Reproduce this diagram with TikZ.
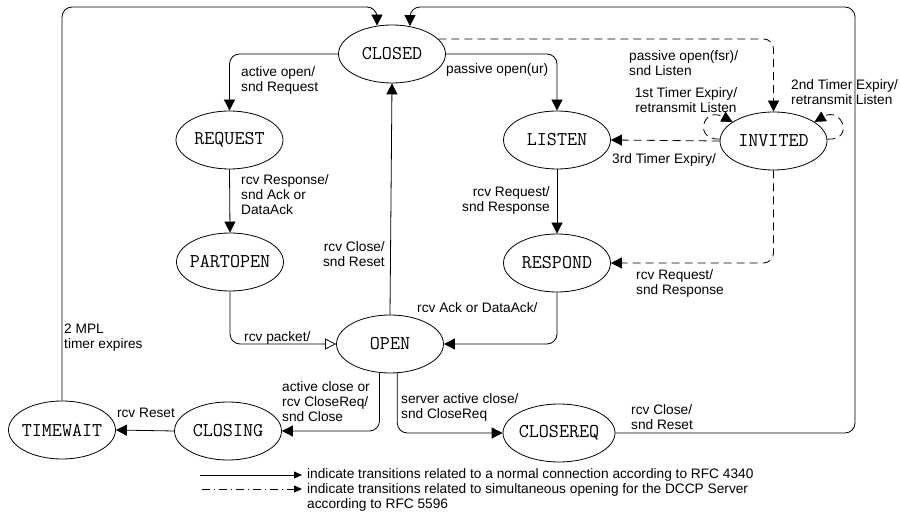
\documentclass[tikz,border=0pt]{standalone}
\usepackage{fontspec}
\setmainfont{Liberation Sans}
\usetikzlibrary{shapes.geometric,arrows.meta,calc}
\begin{document}
\begin{tikzpicture}[x=1pt,y=-1pt,
  state/.style={ellipse,draw,line width=0.8pt,minimum width=107pt,minimum height=58pt,inner sep=0pt,
    font=\ttfamily\fontsize{19.5}{19.5}\selectfont},
  lbl/.style={font=\fontsize{13.7}{15}\selectfont,align=left,inner sep=0pt},
  trans/.style={line width=0.8pt,-{Triangle[length=11pt,width=11pt]},rounded corners=10pt},
  otrans/.style={line width=0.8pt,-{Triangle[open,length=11pt,width=11pt]},rounded corners=10pt},
  dtrans/.style={trans,dash pattern=on 8pt off 5pt},
  legtip/.style={line width=0.8pt,-{Triangle[length=8pt,width=7pt]}}
]
\useasboundingbox (0,0) rectangle (900,518);

% states
\node[state] (closed)   at (392,54)  {\makebox[0pt]{CLOSED}};
\node[state] (request)  at (229.5,140) {\makebox[0pt]{REQUEST}};
\node[state] (listen)   at (557,140) {\makebox[0pt]{LISTEN}};
\node[state] (invited)  at (773.5,141) {\makebox[0pt]{INVITED}};
\node[state] (partopen) at (230,262) {\makebox[0pt]{PARTOPEN}};
\node[state] (respond)  at (557,263) {\makebox[0pt]{RESPOND}};
\node[state] (open)     at (390,344) {\makebox[0pt]{OPEN}};
\node[state] (timewait) at (62,430)  {\makebox[0pt]{TIMEWAIT}};
\node[state] (closing)  at (228,431) {\makebox[0pt]{CLOSING}};
\node[state,minimum width=112pt] (closereq) at (559,433) {\makebox[0pt]{CLOSEREQ}};

% corner coordinates
\coordinate (tlc) at (377,7);
\coordinate (trc) at (855,7);
\coordinate (trc2) at (410,7);

% transitions
\draw[trans] (closed.west) -| (request.north);
\node[lbl,anchor=north west] (l-actopen) at (241,66) {active open/\\snd Request};

\draw[trans] (closed.east) -| (listen.north);
\node[lbl,anchor=west] (l-pasur) at (446,70) {passive open(ur)};

\draw[dtrans] (closed.18) -| (invited.north);
\node[lbl,anchor=north west] (l-pasfsr) at (629,50) {passive open(fsr)/\\snd Listen};

\draw[dtrans] (invited.west) -- (listen.east);
\node[lbl,anchor=west] (l-3rd) at (612,160) {3rd Timer Expiry/};

\draw[dtrans,rounded corners=0pt] (invited.178) .. controls (693,140) and (703,106) .. (invited.155);
\node[lbl,align=center] (l-1st) at (686,100) {1st Timer Expiry/\\retransmit Listen};

\draw[dtrans,rounded corners=0pt] (invited.2) .. controls (855,141) and (842,106) .. (invited.25);
\node[lbl,anchor=north west] (l-2nd) at (791,79) {2nd Timer Expiry/\\retransmit Listen};

\draw[trans] (listen.south) -- (respond.north);
\node[lbl,anchor=north east,align=right] (l-rcvreq1) at (550,186) {rcv Request/\\snd Response};

\draw[dtrans] (invited.south) |- (respond.east);
\node[lbl,anchor=north west] (l-rcvreq2) at (636,269) {rcv Request/\\snd Response};

\draw[trans] (request.south) -- (partopen.north);
\node[lbl,anchor=north west] (l-rcvresp) at (241,174) {rcv Response/\\snd Ack or\\DataAck};

\draw[otrans] (partopen.south) |- (open.west);
\node[lbl,anchor=west] (l-packet) at (244,338) {rcv packet/};

\draw[trans] (open.north) -- (closed.south);
\node[lbl,anchor=north east,align=right] (l-rcvclose1) at (385,241) {rcv Close/\\snd Reset};

\draw[trans] (respond.south) |- (open.east);
\node[lbl,anchor=west] (l-ack) at (417,308) {rcv Ack or DataAck/};

\draw[trans] (open.250) |- (closing.east);
\node[lbl,anchor=north west] (l-actclose) at (282,381) {active close or\\rcv CloseReq/\\snd Close};

\draw[trans] (open.284) |- (closereq.west);
\node[lbl,anchor=north west] (l-srvclose) at (401,393) {server active close/\\snd CloseReq};

\draw[trans] (closing.west) -- (timewait.east);
\node[lbl] (l-rcvreset) at (146,413) {rcv Reset};

\draw[trans,shorten >=-1pt] (timewait.north) |- (tlc) -- (tlc |- closed.north);
\node[lbl,anchor=north west] (l-mpl) at (64,324) {2 MPL\\timer expires};

\draw[trans,shorten >=-1.5pt] (closereq.east) -| (trc) -- (trc2) -- (trc2 |- closed.north);
\node[lbl,anchor=north west] (l-rcvclose2) at (631,404) {rcv Close/\\snd Reset};

% legend
\coordinate (lg1a) at (200,475);
\coordinate (lg1b) at (302,475);
\coordinate (lg2a) at (202,489);
\coordinate (lg2b) at (302,489);
\draw[legtip] (lg1a) -- (lg1b);
\node[lbl,anchor=west] (leg1) at (307,475) {indicate transitions related to a normal connection according to RFC 4340};
\draw[legtip,dash pattern=on 8pt off 4pt on 1pt off 4pt] (lg2a) -- (lg2b);
\node[lbl,anchor=north west] (leg2) at (307,483) {indicate transitions related to simultaneous opening for the DCCP Server\\according to RFC 5596};
\end{tikzpicture}
\end{document}
